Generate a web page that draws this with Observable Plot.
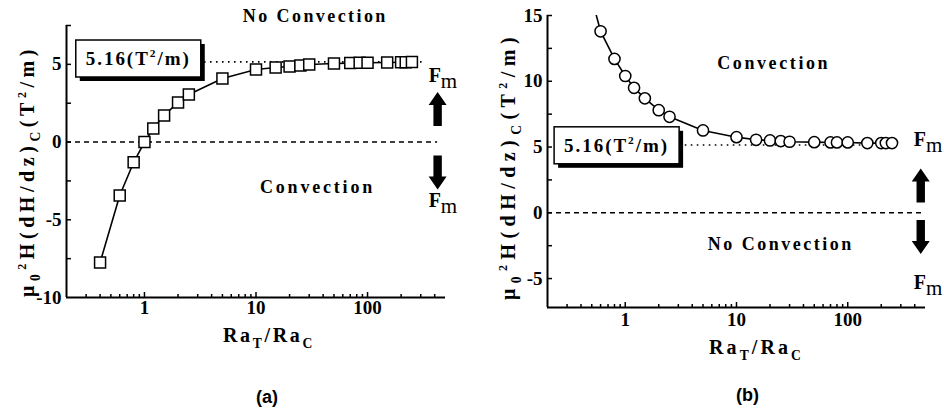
<!DOCTYPE html>
<html>
<head>
<meta charset="utf-8">
<script src="https://cdn.jsdelivr.net/npm/d3@7"></script>
<script src="https://cdn.jsdelivr.net/npm/@observablehq/plot@0.6"></script>
<style>
  html, body { margin: 0; padding: 0; background: #fff; }
  #wrap { position: relative; width: 944px; height: 418px; overflow: hidden; background: #fff; }
  #wrap svg { position: absolute; top: 0; }
</style>
</head>
<body>
<div id="wrap"></div>
<script>
// ---------------- data ----------------
// Panel (a): critical gradient vs Ra_T/Ra_C (squares)
const ratioA = [0.4, 0.6, 0.8, 1.0, 1.2, 1.5, 2.0, 2.5, 5, 10, 15, 20, 25, 30, 50, 70, 85, 100, 150, 200, 220, 250];
const gradA  = [-7.75, -3.44, -1.3, 0.0, 0.87, 1.71, 2.55, 3.06, 4.09, 4.67, 4.8, 4.86, 4.93, 4.99, 5.06, 5.08, 5.1, 5.1, 5.12, 5.14, 5.14, 5.15];
// Panel (b): critical gradient vs Ra_T/Ra_C (circles)
const ratioB = [0.5, 0.6, 0.8, 1.0, 1.2, 1.5, 2.0, 2.5, 5, 10, 15, 20, 25, 30, 50, 70, 80, 100, 150, 200, 220, 250];
const gradB  = [16.3, 13.8, 11.7, 10.4, 9.5, 8.7, 7.8, 7.3, 6.26, 5.75, 5.55, 5.5, 5.45, 5.4, 5.37, 5.35, 5.35, 5.35, 5.3, 5.3, 5.3, 5.3];
const criticalValue = 5.16;
// ticks
const xMajorTicks = [1, 10, 100];
const xMinorTicks = [0.3, 0.4, 0.5, 0.6, 0.7, 0.8, 0.9, 2, 3, 4, 5, 6, 7, 8, 9, 20, 30, 40, 50, 60, 70, 80, 90, 200, 300, 400];
const yTicksA  = [-7.5, -5, -2.5, 0, 2.5, 5, 7.5];
const yLabelsA = [-10, -5, 0, 5];
const yTicksB  = [-5, -2.5, 0, 2.5, 5, 7.5, 10, 12.5, 15];
const yLabelsB = [-5, 0, 5, 10, 15];
// texts
const yTitle = "μ_0^2H(dH/dz)_C(T^2/m)";
const xTitle = "Ra_T/Ra_C";
const boxText = "5.16(T^2/m)";
const forceText = "F~m";
const captionA = "(a)";
const captionB = "(b)";

// ---------------- layout ----------------
const SERIF = "Liberation Serif";
const SANS = "Liberation Sans";
const NS = "http://www.w3.org/2000/svg";
const H = 418;

const blockArrow = {
  draw(ctx, l) {
    const sw = 4.2, hw = 9, hl = 13;
    ctx.moveTo(-sw, 0);
    ctx.lineTo(-sw, -l + hl);
    ctx.lineTo(-hw, -l + hl);
    ctx.lineTo(0, -l);
    ctx.lineTo(hw, -l + hl);
    ctx.lineTo(sw, -l + hl);
    ctx.lineTo(sw, 0);
    ctx.closePath();
  }
};

const panels = [
  {
    left: 0, width: 470, ml: 66, mr: 25, mt: 25, axisY: 297, yDomain: [-10, 7.5],
    xs: ratioA, ys: gradA, symbol: "square", r: 6.2,
    yTicks: yTicksA, yLabels: yLabelsA, refEnd: 312, zeroEnd: 425,
    xTickDy: 16, yTitleDx: -39, yTitleDy: 10, xTitleDx: 13, xTitleDy: 44,
    caption: captionA, capDx: 11, capDy: 105,
    regions: [{x: 34, y: 8.08, t: "No Convection", w: 145}, {x: 35.6, y: -2.92, t: "Convection", w: 115}],
    box: {x: 0.88, y: 5.35},
    forces: [{x: 353, y: 4.29}, {x: 353, y: -3.76}],
    arrows: [{x: 425, y: 2.13, rot: 0}, {x: 425, y: -1.96, rot: 180}],
    yTitleW: 252, xTitleW: 92
  },
  {
    left: 470, width: 474, ml: 77, mr: 19, mt: 15, axisY: 307, yDomain: [-7.2, 15],
    xs: ratioB, ys: gradB, symbol: "circle", r: 5.6,
    yTicks: yTicksB, yLabels: yLabelsB, refEnd: 302, zeroEnd: 500,
    xTickDy: 18, yTitleDx: -39, yTitleDy: 5, xTitleDx: 20, xTitleDy: 46,
    caption: captionB, capDx: 11, capDy: 93,
    regions: [{x: 21.6, y: 11.35, t: "Convection", w: 113}, {x: 25, y: -2.41, t: "No Convection", w: 146}],
    box: {x: 0.836, y: 5.1},
    forces: [{x: 392, y: 5.57}, {x: 392, y: -5.34}],
    arrows: [{x: 453, y: 2.08, rot: 0}, {x: 453, y: -1.84, rot: 180}],
    yTitleW: 268, xTitleW: 95
  }
];

// ---------------- helpers ----------------
function richify(svg) {
  svg.querySelectorAll("text").forEach(t => {
    if (t.children.length) return;
    const s = t.textContent;
    if (!/[_^~]/.test(s)) return;
    const fs = parseFloat(getComputedStyle(t).fontSize) || 18;
    const tokens = [];
    let i = 0, buf = "";
    const flush = () => { if (buf) tokens.push({s: buf, k: "n"}); buf = ""; };
    while (i < s.length) {
      const c = s[i];
      if (c === "_" || c === "^" || c === "~") {
        flush();
        let arg;
        if (s[i + 1] === "{") { const j = s.indexOf("}", i + 2); arg = s.slice(i + 2, j); i = j + 1; }
        else { arg = s[i + 1]; i += 2; }
        tokens.push({s: arg, k: c});
      } else { buf += c; i++; }
    }
    flush();
    t.textContent = "";
    let cur = 0;
    tokens.forEach(tok => {
      const ts = document.createElementNS(NS, "tspan");
      ts.textContent = tok.s;
      let target = 0;
      if (tok.k === "_") { target = 0.3 * fs; ts.setAttribute("font-size", 0.68 * fs); }
      else if (tok.k === "^") { target = -0.42 * fs; ts.setAttribute("font-size", 0.6 * fs); }
      else if (tok.k === "~") { target = 0.3 * fs; ts.setAttribute("font-weight", "normal"); ts.setAttribute("font-size", 1.05 * fs); }
      const d = target - cur;
      if (d) ts.setAttribute("dy", d);
      cur = target;
      t.appendChild(ts);
    });
  });
}
function plain(s) { return s.replace(/[_^~]/g, ""); }
function findTexts(svg, content) {
  return Array.from(svg.querySelectorAll("text")).filter(t => t.textContent === content);
}
function fitText(svg, content, width) {
  findTexts(svg, content).forEach(t => {
    t.style.letterSpacing = "0px";
    const len = t.getComputedTextLength();
    const n = t.getNumberOfChars();
    t.style.letterSpacing = Math.max(0, (width - len) / n) + "px";
  });
}
// keep a rotated title centred vertically on its intended anchor
function centerVertically(svg, content, cy) {
  const sr = svg.getBoundingClientRect();
  findTexts(svg, content).forEach(t => {
    const r = t.getBoundingClientRect();
    const actual = r.top - sr.top + r.height / 2;
    const delta = cy - actual;
    const tr = t.getAttribute("transform") || "";
    t.setAttribute("transform", `translate(0,${delta}) ${tr}`);
  });
}
function addBox(svg, content) {
  findTexts(svg, content).forEach(t => {
    const b = t.getBBox();
    const padX = 10, padY = 7;
    const tr = t.getAttribute("transform");
    const mk = (ox, oy, fill, stroke) => {
      const r = document.createElementNS(NS, "rect");
      r.setAttribute("x", b.x - padX + ox);
      r.setAttribute("y", b.y - padY + oy);
      r.setAttribute("width", b.width + 2 * padX);
      r.setAttribute("height", b.height + 2 * padY);
      r.setAttribute("fill", fill);
      r.setAttribute("stroke", stroke);
      r.setAttribute("stroke-width", 1.5);
      if (tr) r.setAttribute("transform", tr);
      t.parentNode.insertBefore(r, t);
    };
    mk(4, 4, "black", "none");
    mk(0, 0, "white", "black");
  });
}

// ---------------- build ----------------
const wrap = document.getElementById("wrap");
panels.forEach(cfg => {
  const pts = cfg.xs.map((x, i) => ({x, y: cfg.ys[i]}));
  const frameW = cfg.width - cfg.ml - cfg.mr;
  const frameH = cfg.axisY - cfg.mt;
  const T = {fontFamily: SERIF, fontWeight: "bold", fill: "black"};
  const svg = Plot.plot({
    width: cfg.width, height: H,
    marginLeft: cfg.ml, marginRight: cfg.mr, marginTop: cfg.mt, marginBottom: H - cfg.axisY,
    x: {type: "log", domain: [0.2, 500], axis: null},
    y: {domain: cfg.yDomain, axis: null},
    style: {fontFamily: SERIF, fontSize: "18px", color: "black", background: "white", overflow: "visible"},
    marks: [
      Plot.ruleY([criticalValue], {x1: 1, x2: cfg.refEnd, stroke: "black", strokeWidth: 1.6, strokeDasharray: "1.6,4.4"}),
      Plot.ruleY([0], {x1: 0.2, x2: cfg.zeroEnd, stroke: "black", strokeWidth: 1.5, strokeDasharray: "5,4"}),
      Plot.line(pts, {x: "x", y: "y", stroke: "black", strokeWidth: 1.6, clip: true}),
      Plot.dot(pts, {x: "x", y: "y", symbol: cfg.symbol, r: cfg.r, fill: "white", stroke: "black", strokeWidth: 1.5, clip: true}),
      Plot.ruleX([0.2], {stroke: "black", strokeWidth: 2}),
      Plot.ruleY([cfg.yDomain[0]], {stroke: "black", strokeWidth: 2.2}),
      Plot.tickX(xMinorTicks, {x: d => d, insetTop: frameH - 3, stroke: "black", strokeWidth: 1.5}),
      Plot.tickX(xMajorTicks, {x: d => d, insetTop: frameH - 5, stroke: "black", strokeWidth: 1.5}),
      Plot.tickY(cfg.yTicks, {y: d => d, insetRight: frameW - 5, stroke: "black", strokeWidth: 1.5}),
      Plot.text(xMajorTicks, {...T, x: d => d, frameAnchor: "bottom", dy: cfg.xTickDy, text: d => String(d), fontSize: 19}),
      Plot.text(cfg.yLabels, {...T, y: d => d, frameAnchor: "left", dx: -5, textAnchor: "end", text: d => String(d), fontSize: 19}),
      Plot.text([yTitle], {...T, frameAnchor: "left", rotate: -90, dx: cfg.yTitleDx, dy: cfg.yTitleDy, text: d => d, fontSize: 20}),
      Plot.text([xTitle], {...T, frameAnchor: "bottom", dx: cfg.xTitleDx, dy: cfg.xTitleDy, text: d => d, fontSize: 20}),
      Plot.text([cfg.caption], {...T, frameAnchor: "bottom", dx: cfg.capDx, dy: cfg.capDy, text: d => d, fontSize: 18, fontFamily: SANS}),
      Plot.text(cfg.regions, {...T, x: "x", y: "y", text: "t", fontSize: 18}),
      Plot.text([cfg.box], {...T, x: "x", y: "y", text: () => boxText, fontSize: 19}),
      Plot.text(cfg.forces, {...T, x: "x", y: "y", text: () => forceText, textAnchor: "start", fontSize: 20}),
      Plot.vector(cfg.arrows, {x: "x", y: "y", rotate: "rot", length: 34, anchor: "middle", shape: blockArrow, fill: "black", stroke: "none"})
    ]
  });
  svg.style.left = cfg.left + "px";
  wrap.appendChild(svg);
  richify(svg);
  fitText(svg, plain(yTitle), cfg.yTitleW);
  fitText(svg, plain(xTitle), cfg.xTitleW);
  fitText(svg, plain(boxText), 105);
  cfg.regions.forEach(r => fitText(svg, r.t, r.w));
  centerVertically(svg, plain(yTitle), (cfg.mt + cfg.axisY) / 2 + cfg.yTitleDy);
  addBox(svg, plain(boxText));
});
</script>
</body>
</html>
